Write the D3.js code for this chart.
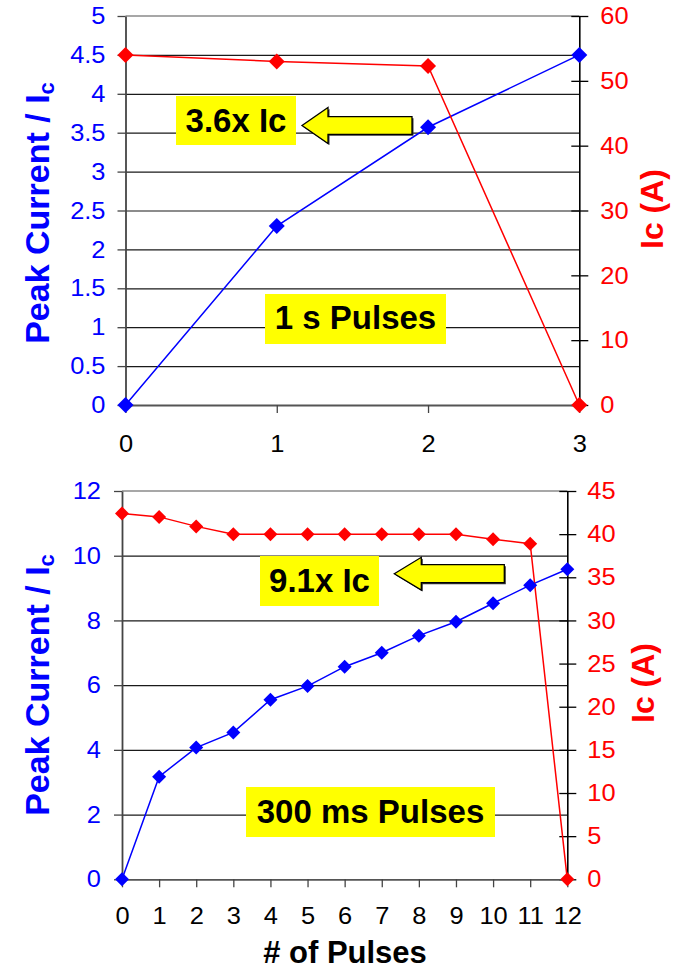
<!DOCTYPE html>
<html><head><meta charset="utf-8">
<script src="https://cdn.jsdelivr.net/npm/d3@7"></script>
<style>
body{margin:0;background:#fff;}
svg{display:block;font-family:Arial,"Liberation Sans",sans-serif;}
</style></head><body>
<svg id="chart" width="679" height="969"></svg>
<script>
// ---------- data ----------
const pulses1s = [0, 1, 2, 3];
const peakRatio1s = [0, 2.3, 3.57, 4.5];
const ic1s = [54, 53, 52.3, 0];

const pulses300 = [0, 1, 2, 3, 4, 5, 6, 7, 8, 9, 10, 11, 12];
const peakRatio300 = [0, 3.17, 4.07, 4.54, 5.55, 5.97, 6.57, 7.0, 7.53, 7.96, 8.53, 9.09, 9.58];
const ic300 = [42.4, 42.0, 40.9, 40, 40, 40, 40, 40, 40, 40, 39.4, 38.9, 0];

const leftTicks1s = [0, 0.5, 1, 1.5, 2, 2.5, 3, 3.5, 4, 4.5, 5];
const rightTicks1s = [0, 10, 20, 30, 40, 50, 60];
const xTicks1s = [0, 1, 2, 3];
const leftTicks300 = [0, 2, 4, 6, 8, 10, 12];
const rightTicks300 = [0, 5, 10, 15, 20, 25, 30, 35, 40, 45];
const xTicks300 = [0, 1, 2, 3, 4, 5, 6, 7, 8, 9, 10, 11, 12];

const leftTitleMain = "Peak Current / I";
const leftTitleSub = "c";
const rightTitle = "Ic (A)";
const xTitle = "# of Pulses";
const ratioLabel1s = "3.6x Ic";
const pulseLabel1s = "1 s Pulses";
const ratioLabel300 = "9.1x Ic";
const pulseLabel300 = "300 ms Pulses";

// ---------- drawing ----------
const svg = d3.select("#chart");
const BLUE = "#0000ff", RED = "#ff0000", YEL = "#ffff00";
const STRETCH = 1.06;
const TICK_FS = 24;

function widen(sel) {
  sel.each(function () {
    const w = this.getComputedTextLength();
    d3.select(this).attr("textLength", w * STRETCH).attr("lengthAdjust", "spacingAndGlyphs");
  });
}

function panel(cfg) {
  const g = svg.append("g");
  const x = d3.scaleLinear().domain(cfg.xDomain).range([cfg.left, cfg.right]);
  const yL = d3.scaleLinear().domain(cfg.yLDomain).range([cfg.bottom, cfg.top]);
  const yR = d3.scaleLinear().domain(cfg.yRDomain).range([cfg.bottom, cfg.top]);
  const W = cfg.right - cfg.left;

  // gridlines
  const inner = cfg.leftTicks.filter(v => v > cfg.yLDomain[0] && v < cfg.yLDomain[1]);
  g.append("g").attr("transform", `translate(${cfg.left},0)`)
    .call(d3.axisLeft(yL).tickValues(inner).tickSize(-W).tickSizeOuter(0).tickFormat(""))
    .call(s => s.select(".domain").remove())
    .selectAll("line").attr("stroke", "#1a1a1a").attr("stroke-width", 1.2);
  // top border
  g.append("line").attr("x1", cfg.left).attr("x2", cfg.right)
    .attr("y1", yL(cfg.yLDomain[1])).attr("y2", yL(cfg.yLDomain[1]))
    .attr("stroke", "#8a8a8a").attr("stroke-width", 1.6);

  // annotation boxes
  cfg.boxes.forEach(b => {
    g.append("rect").attr("x", b.x).attr("y", b.y).attr("width", b.w).attr("height", b.h).attr("fill", YEL);
    g.append("text").attr("x", b.x + b.w / 2 + (b.dx || 0)).attr("y", b.base)
      .attr("text-anchor", "middle").attr("font-size", 33).attr("font-weight", "bold")
      .attr("fill", "#000").text(b.label);
  });
  // arrow
  const a = cfg.arrow;
  const pts = [[a.tx, a.ty], [a.hx, a.ty - a.hh], [a.hx, a.ty - a.bh], [a.ex, a.ty - a.bh],
               [a.ex, a.ty + a.bh], [a.hx, a.ty + a.bh], [a.hx, a.ty + a.hh]];
  g.append("path").attr("d", d3.line()(pts.map(p => [p[0] + 1.5, p[1] + 1.5])) + "Z")
    .attr("fill", "#333").attr("stroke", "none");
  g.append("path").attr("d", d3.line()(pts) + "Z")
    .attr("fill", YEL).attr("stroke", "#000").attr("stroke-width", 1.3).attr("stroke-linejoin", "miter");

  // left axis
  const la = g.append("g").attr("transform", `translate(${cfg.left},0)`)
    .call(d3.axisLeft(yL).tickValues(cfg.leftTicks).tickSize(8).tickSizeOuter(0)
      .tickPadding(cfg.lPad).tickFormat(d3.format("~g")));
  la.select(".domain").attr("stroke", "#444").attr("stroke-width", 1.8);
  la.selectAll(".tick line").attr("stroke", "#444").attr("stroke-width", 1.3);
  la.selectAll("text").attr("fill", BLUE).attr("font-size", TICK_FS).attr("font-family", null).call(widen);

  // right axis
  const ra = g.append("g").attr("transform", `translate(${cfg.right},0)`)
    .call(d3.axisRight(yR).tickValues(cfg.rightTicks).tickSize(9).tickSizeOuter(0)
      .tickPadding(cfg.rPad).tickFormat(d3.format("~g")));
  ra.select(".domain").attr("stroke", "#000").attr("stroke-width", 1.6);
  ra.selectAll(".tick line").attr("x1", -8).attr("stroke", "#000").attr("stroke-width", 1.3);
  ra.selectAll("text").attr("fill", RED).attr("font-size", TICK_FS).attr("font-family", null).call(widen);

  // bottom axis
  const ba = g.append("g").attr("transform", `translate(0,${cfg.bottom})`)
    .call(d3.axisBottom(x).tickValues(cfg.xTicks).tickSize(8).tickSizeOuter(0)
      .tickPadding(cfg.bPad).tickFormat(d3.format("d")));
  ba.select(".domain").attr("stroke", "#555").attr("stroke-width", 1.8);
  ba.selectAll(".tick line").attr("stroke", "#444").attr("stroke-width", 1.3);
  ba.selectAll("text").attr("fill", "#000").attr("font-size", TICK_FS).attr("font-family", null)
    .attr("dy", "0.62em").call(widen);

  // series
  const idx = d3.range(cfg.xs.length);
  const diamond = d3.symbol(d3.symbolSquare, cfg.mSize);
  [[cfg.peak, yL, BLUE], [cfg.ic, yR, RED]].forEach(([vals, ys, col]) => {
    g.append("path")
      .attr("d", d3.line().x(i => x(cfg.xs[i])).y(i => ys(vals[i]))(idx))
      .attr("fill", "none").attr("stroke", col).attr("stroke-width", 1.5);
  });
  [[cfg.ic, yR, RED], [cfg.peak, yL, BLUE]].forEach(([vals, ys, col]) => {
    g.selectAll(null).data(idx).enter().append("path")
      .attr("d", diamond)
      .attr("transform", i => `translate(${x(cfg.xs[i])},${ys(vals[i])}) rotate(45)`)
      .attr("fill", col);
  });

  // titles
  const lt = g.append("text")
    .attr("transform", `translate(${cfg.ltX},${cfg.ltY}) rotate(-90)`)
    .attr("text-anchor", "middle").attr("fill", BLUE).attr("font-weight", "bold").attr("font-size", 34);
  lt.append("tspan").text(leftTitleMain);
  lt.append("tspan").attr("font-size", 22).attr("dy", 5).text(leftTitleSub);

  g.append("text")
    .attr("transform", `translate(${cfg.rtX},${cfg.rtY}) rotate(-90)`)
    .attr("text-anchor", "middle").attr("fill", RED).attr("font-weight", "bold").attr("font-size", 32)
    .text(rightTitle);
}

panel({
  xDomain: [0, 3], yLDomain: [0, 5], yRDomain: [0, 60],
  left: 125.5, right: 579.3, top: 16, bottom: 405,
  leftTicks: leftTicks1s, rightTicks: rightTicks1s, xTicks: xTicks1s,
  lPad: 12, rPad: 12, bPad: 24,
  xs: pulses1s, peak: peakRatio1s, ic: ic1s, mSize: 128,
  boxes: [
    {x: 176, y: 96, w: 120, h: 49, base: 132, label: ratioLabel1s},
    {x: 265, y: 294, w: 181, h: 50, base: 329, label: pulseLabel1s}
  ],
  arrow: {tx: 302, ty: 125.5, hx: 328, hh: 18, bh: 8.8, ex: 412},
  ltX: 49, ltY: 213, rtX: 663, rtY: 209
});

panel({
  xDomain: [0, 12], yLDomain: [0, 12], yRDomain: [0, 45],
  left: 122, right: 567.3, top: 491, bottom: 879.3,
  leftTicks: leftTicks300, rightTicks: rightTicks300, xTicks: xTicks300,
  lPad: 13, rPad: 11, bPad: 22,
  xs: pulses300, peak: peakRatio300, ic: ic300, mSize: 98,
  boxes: [
    {x: 260, y: 556, w: 119, h: 50, base: 591.5, label: ratioLabel300},
    {x: 246, y: 787, w: 249, h: 50, base: 823, label: pulseLabel300}
  ],
  arrow: {tx: 394.3, ty: 573.7, hx: 421.3, hh: 16.4, bh: 9, ex: 504.3},
  ltX: 49, ltY: 685, rtX: 654, rtY: 683
});

svg.append("text").attr("x", 345).attr("y", 963).attr("text-anchor", "middle")
  .attr("font-size", 31).attr("font-weight", "bold").attr("fill", "#000").text(xTitle);
</script>
</body></html>
